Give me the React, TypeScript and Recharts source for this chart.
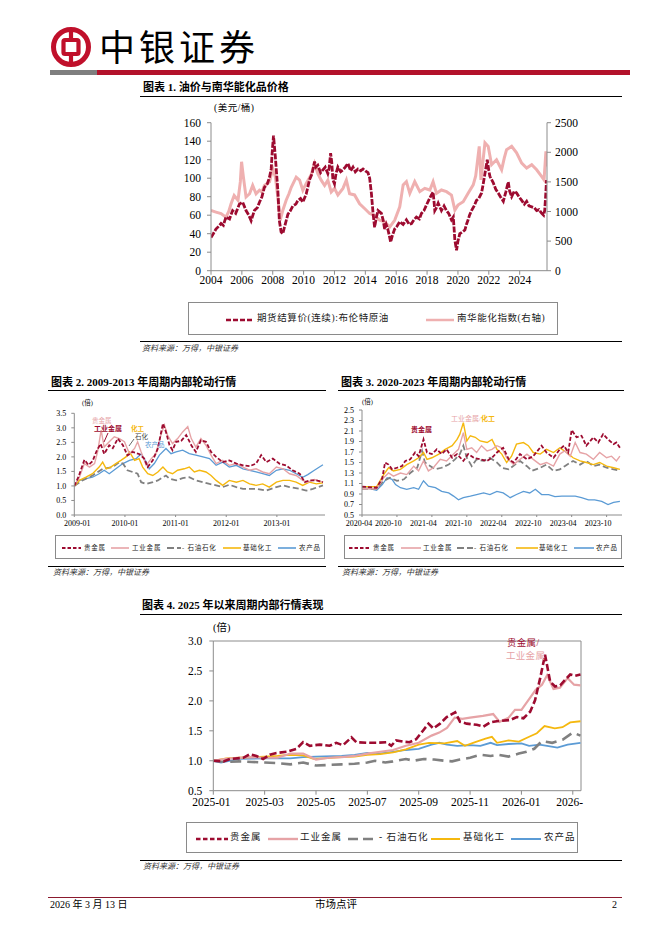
import React from "react";
import { LineChart, Line, XAxis, YAxis, ReferenceLine } from "recharts";

const SERIF = "'Liberation Serif', 'Noto Sans CJK SC', serif";
const CJK = "'Noto Sans CJK SC', sans-serif";

const RED = "#9D0B30";
const PINK = "#E6A3A6";
const PINK1 = "#EFB0B0";
const GRAY = "#808080";
const GOLD = "#F5B80F";
const BLUE = "#5B9BD5";
const AXIS = "#8c8c8c";

// ---------------- Figure 1: Brent vs Nanhua energy-chem index ----------------
const oilXTicks = [2004, 2006, 2008, 2010, 2012, 2014, 2016, 2018, 2020, 2022, 2024];
const oilLeftTicks = [0, 20, 40, 60, 80, 100, 120, 140, 160];
const oilRightTicks = [0, 500, 1000, 1500, 2000, 2500];

// [year, USD/bbl]
const brentSeries: number[][] = [
  [2004.0, 36], [2004.15, 40], [2004.32, 45], [2004.5, 48], [2004.65, 51], [2004.8, 49], [2004.97, 58],
  [2005.2, 56], [2005.4, 65], [2005.6, 62], [2005.84, 72], [2006.05, 74], [2006.27, 65], [2006.45, 60],
  [2006.6, 54], [2006.81, 65], [2007.0, 68], [2007.14, 74], [2007.3, 80], [2007.46, 90], [2007.65, 94],
  [2007.79, 101], [2007.9, 110], [2007.96, 127], [2008.05, 146], [2008.17, 123], [2008.33, 87],
  [2008.43, 54], [2008.54, 42], [2008.65, 40], [2008.76, 47], [2008.98, 61], [2009.15, 65], [2009.3, 70],
  [2009.5, 72], [2009.63, 76], [2009.8, 78], [2009.95, 74], [2010.17, 83], [2010.38, 98], [2010.55, 105],
  [2010.71, 118], [2010.8, 112], [2010.92, 114], [2011.1, 106], [2011.25, 109], [2011.4, 112],
  [2011.57, 105], [2011.65, 110], [2011.75, 127], [2011.82, 118], [2011.9, 98], [2012.0, 94],
  [2012.1, 105], [2012.22, 112], [2012.4, 107], [2012.55, 109], [2012.7, 112], [2012.87, 116],
  [2013.05, 108], [2013.2, 112], [2013.35, 107], [2013.52, 110], [2013.7, 108], [2013.85, 110],
  [2014.0, 108], [2014.17, 106], [2014.28, 100], [2014.39, 84], [2014.5, 62], [2014.6, 47], [2014.72, 58],
  [2014.82, 65], [2015.04, 62], [2015.15, 55], [2015.25, 45], [2015.35, 50], [2015.47, 44], [2015.55, 38],
  [2015.64, 31], [2015.75, 38], [2015.9, 45], [2016.05, 48], [2016.23, 53], [2016.45, 50], [2016.66, 55],
  [2016.85, 50], [2016.99, 51], [2017.15, 55], [2017.31, 58], [2017.5, 56], [2017.64, 62], [2017.8, 65],
  [2017.96, 71], [2018.1, 76], [2018.28, 82], [2018.39, 85], [2018.45, 75], [2018.5, 65], [2018.6, 68],
  [2018.72, 73], [2018.85, 68], [2018.93, 65], [2019.1, 70], [2019.26, 65], [2019.4, 62], [2019.58, 55],
  [2019.7, 58], [2019.8, 33], [2019.91, 22], [2020.0, 32], [2020.12, 40], [2020.3, 42], [2020.45, 44],
  [2020.55, 50], [2020.66, 55], [2020.75, 60], [2020.88, 65], [2021.05, 70], [2021.2, 76], [2021.35, 78],
  [2021.53, 84], [2021.65, 95], [2021.75, 105], [2021.82, 112], [2021.9, 120], [2022.0, 108],
  [2022.07, 102], [2022.2, 98], [2022.29, 95], [2022.45, 88], [2022.61, 84], [2022.75, 80], [2022.94, 75],
  [2023.1, 85], [2023.26, 96], [2023.35, 86], [2023.48, 80], [2023.65, 86], [2023.8, 84], [2023.95, 80],
  [2024.13, 76], [2024.3, 72], [2024.45, 75], [2024.6, 70], [2024.78, 69], [2024.95, 68], [2025.1, 65],
  [2025.25, 66], [2025.43, 62], [2025.55, 60], [2025.62, 65], [2025.68, 80], [2025.74, 98],
];

// [year, index points] (right axis)
const nanhuaSeries: number[][] = [
  [2004.0, 1016], [2004.32, 990], [2004.65, 965], [2004.97, 905], [2005.15, 1000], [2005.3, 1130],
  [2005.5, 1270], [2005.75, 1190], [2005.9, 1500], [2005.98, 1840], [2006.1, 1580], [2006.27, 1245],
  [2006.5, 1300], [2006.7, 1440], [2006.92, 1300], [2007.14, 1360], [2007.3, 1330], [2007.46, 1440],
  [2007.79, 1500], [2008.0, 1725], [2008.17, 1580], [2008.33, 1245], [2008.48, 850], [2008.65, 1016],
  [2008.87, 1190], [2009.05, 1300], [2009.2, 1410], [2009.52, 1580], [2009.74, 1530], [2009.95, 1360],
  [2010.17, 1475], [2010.49, 1620], [2010.71, 1810], [2010.92, 1640], [2011.14, 1530], [2011.36, 1440],
  [2011.57, 1530], [2011.79, 1330], [2012.0, 1390], [2012.22, 1280], [2012.55, 1390], [2012.77, 1530],
  [2012.98, 1300], [2013.3, 1280], [2013.63, 1130], [2013.95, 1050], [2014.28, 966], [2014.6, 937],
  [2014.93, 852], [2015.25, 824], [2015.58, 738], [2015.9, 852], [2016.23, 1080], [2016.45, 1450],
  [2016.66, 1505], [2016.88, 1307], [2017.2, 1505], [2017.53, 1335], [2017.85, 1392], [2018.18, 1363],
  [2018.39, 1505], [2018.61, 1307], [2018.93, 1363], [2019.26, 1335], [2019.58, 1278], [2019.8, 1023],
  [2020.0, 1108], [2020.34, 1165], [2020.66, 1307], [2020.99, 1450], [2021.15, 1600], [2021.25, 1818],
  [2021.38, 2100], [2021.49, 1534], [2021.6, 1800], [2021.75, 2160], [2021.96, 2100], [2022.18, 1790],
  [2022.5, 1875], [2022.83, 1705], [2023.0, 1900], [2023.15, 2045], [2023.48, 2100], [2023.8, 1990],
  [2024.13, 1818], [2024.45, 1733], [2024.78, 1790], [2025.1, 1705], [2025.43, 1590], [2025.58, 1534],
  [2025.7, 2018], [2025.76, 1760],
];

// ---------------- Figure 2: 2009-2013 ----------------
const f2XTicks = [2009, 2010, 2011, 2012, 2013];
const f2XLabels = ["2009-01", "2010-01", "2011-01", "2012-01", "2013-01"];
const f2YTicks = [0, 0.5, 1, 1.5, 2, 2.5, 3, 3.5];

const f2Precious: number[][] = [
  [2009, 1.0], [2009.08, 1.3], [2009.14, 1.6], [2009.2, 1.9], [2009.28, 1.72], [2009.36, 1.85],
  [2009.44, 2.2], [2009.52, 2.45], [2009.59, 2.1], [2009.69, 2.4], [2009.76, 2.3], [2009.86, 2.63],
  [2009.96, 2.4], [2010.05, 2.05], [2010.15, 2.17], [2010.28, 2.1], [2010.38, 1.94], [2010.45, 1.65],
  [2010.55, 1.88], [2010.65, 2.29], [2010.75, 3.15], [2010.81, 2.86], [2010.88, 2.4], [2010.94, 2.23],
  [2011.01, 2.52], [2011.11, 2.55], [2011.21, 2.75], [2011.31, 2.4], [2011.4, 2.17], [2011.5, 2.57],
  [2011.6, 2.52], [2011.7, 2.17], [2011.8, 2.0], [2011.93, 1.82], [2012.06, 1.88], [2012.2, 1.77],
  [2012.33, 1.71], [2012.46, 1.68], [2012.59, 1.77], [2012.69, 2.06], [2012.79, 1.82], [2012.92, 1.94],
  [2013.05, 1.77], [2013.18, 1.71], [2013.31, 1.54], [2013.45, 1.42], [2013.55, 1.13], [2013.64, 1.19],
  [2013.78, 1.19], [2013.91, 1.13],
];
const f2Industrial: number[][] = [
  [2009, 1.0], [2009.1, 1.3], [2009.2, 1.77], [2009.3, 1.65], [2009.4, 1.77], [2009.46, 2.17],
  [2009.53, 2.92], [2009.59, 2.34], [2009.69, 2.52], [2009.79, 2.69], [2009.89, 2.63], [2009.99, 2.52],
  [2010.09, 2.11], [2010.19, 2.29], [2010.25, 2.52], [2010.32, 2.17], [2010.42, 1.71], [2010.52, 1.94],
  [2010.61, 2.11], [2010.71, 2.75], [2010.78, 3.1], [2010.84, 2.75], [2010.94, 2.46], [2011.04, 2.63],
  [2011.14, 2.86], [2011.24, 3.04], [2011.31, 2.63], [2011.4, 2.34], [2011.5, 2.63], [2011.6, 2.4],
  [2011.7, 2.06], [2011.8, 1.77], [2011.93, 1.88], [2012.06, 1.71], [2012.2, 1.77], [2012.33, 1.65],
  [2012.46, 1.54], [2012.59, 1.59], [2012.72, 1.48], [2012.85, 1.42], [2012.99, 1.65], [2013.12, 1.59],
  [2013.25, 1.42], [2013.38, 1.36], [2013.51, 1.19], [2013.61, 1.13], [2013.74, 1.22], [2013.91, 1.13],
];
const f2Petro: number[][] = [
  [2009, 1.0], [2009.16, 1.19], [2009.36, 1.36], [2009.56, 1.59], [2009.76, 1.65], [2009.89, 1.82],
  [2009.96, 1.77], [2010.05, 1.54], [2010.15, 1.48], [2010.25, 1.42], [2010.32, 1.13], [2010.42, 1.07],
  [2010.55, 1.13], [2010.65, 1.19], [2010.75, 1.3], [2010.81, 1.36], [2010.88, 1.25], [2011.01, 1.19],
  [2011.14, 1.27], [2011.27, 1.3], [2011.4, 1.19], [2011.54, 1.13], [2011.67, 1.07], [2011.8, 1.02],
  [2011.93, 0.96], [2012.06, 1.04], [2012.2, 0.96], [2012.33, 0.9], [2012.59, 0.9], [2012.79, 0.84],
  [2012.99, 0.96], [2013.12, 1.02], [2013.25, 0.96], [2013.45, 0.9], [2013.58, 0.84], [2013.71, 0.9],
  [2013.91, 1.02],
];
const f2Chemical: number[][] = [
  [2009, 1.0], [2009.1, 1.19], [2009.23, 1.3], [2009.36, 1.42], [2009.49, 1.65], [2009.56, 1.82],
  [2009.63, 1.59], [2009.72, 1.65], [2009.82, 1.77], [2009.92, 1.88], [2010.02, 2.0], [2010.09, 2.17],
  [2010.19, 1.88], [2010.28, 1.94], [2010.35, 1.65], [2010.45, 1.42], [2010.55, 1.36], [2010.65, 1.48],
  [2010.75, 1.65], [2010.84, 1.48], [2010.94, 1.42], [2011.04, 1.54], [2011.17, 1.59], [2011.27, 1.65],
  [2011.37, 1.48], [2011.47, 1.54], [2011.6, 1.48], [2011.7, 1.36], [2011.8, 1.19], [2011.93, 1.02],
  [2012.06, 1.19], [2012.2, 1.13], [2012.33, 1.19], [2012.46, 1.07], [2012.59, 1.02], [2012.72, 1.07],
  [2012.85, 0.96], [2012.99, 1.13], [2013.12, 1.19], [2013.25, 1.19], [2013.38, 1.13], [2013.51, 1.02],
  [2013.64, 1.13], [2013.78, 1.07], [2013.91, 1.11],
];
const f2Agri: number[][] = [
  [2009, 1.0], [2009.1, 1.19], [2009.23, 1.25], [2009.36, 1.3], [2009.49, 1.42], [2009.59, 1.54],
  [2009.69, 1.42], [2009.82, 1.59], [2009.96, 1.77], [2010.09, 1.88], [2010.22, 1.94], [2010.32, 2.11],
  [2010.42, 1.82], [2010.48, 1.59], [2010.58, 1.77], [2010.68, 2.06], [2010.81, 2.29], [2010.91, 2.11],
  [2011.01, 2.17], [2011.14, 2.23], [2011.27, 2.11], [2011.4, 2.06], [2011.54, 2.0], [2011.67, 1.94],
  [2011.8, 1.71], [2011.93, 1.82], [2012.06, 1.65], [2012.2, 1.71], [2012.33, 1.59], [2012.46, 1.54],
  [2012.59, 1.48], [2012.72, 1.42], [2012.85, 1.36], [2012.99, 1.54], [2013.12, 1.59], [2013.25, 1.54],
  [2013.38, 1.42], [2013.51, 1.3], [2013.61, 1.39], [2013.74, 1.54], [2013.84, 1.65], [2013.91, 1.73],
];

// ---------------- Figure 3: 2020-2023 ----------------
const f3XTicks = [2020.25, 2020.75, 2021.25, 2021.75, 2022.25, 2022.75, 2023.25, 2023.75];
const f3XLabels = ["2020-04", "2020-10", "2021-04", "2021-10", "2022-04", "2022-10", "2023-04", "2023-10"];
const f3YTicks = [0.5, 0.7, 0.9, 1.1, 1.3, 1.5, 1.7, 1.9, 2.1, 2.3, 2.5];

const f3Precious: number[][] = [
  [2020.25, 1.04], [2020.46, 1.02], [2020.54, 1.2], [2020.58, 1.5], [2020.63, 1.46], [2020.68, 1.37],
  [2020.75, 1.4], [2020.82, 1.43], [2020.87, 1.53], [2020.94, 1.56], [2021.01, 1.69], [2021.06, 1.62],
  [2021.13, 1.94], [2021.18, 1.69], [2021.25, 1.66], [2021.32, 1.75], [2021.39, 1.66], [2021.46, 1.75],
  [2021.54, 1.59], [2021.61, 1.66], [2021.7, 1.53], [2021.77, 1.66], [2021.85, 1.59], [2021.94, 1.56],
  [2022.04, 1.53], [2022.11, 1.59], [2022.18, 1.69], [2022.27, 1.78], [2022.35, 1.56], [2022.42, 1.5],
  [2022.51, 1.66], [2022.61, 1.56], [2022.7, 1.62], [2022.82, 1.82], [2022.89, 1.69], [2022.99, 1.59],
  [2023.08, 1.75], [2023.14, 1.82], [2023.2, 1.69], [2023.25, 2.12], [2023.32, 1.98], [2023.39, 2.01],
  [2023.46, 1.82], [2023.56, 1.98], [2023.63, 1.88], [2023.7, 2.04], [2023.77, 1.94], [2023.85, 1.85],
  [2023.89, 1.88], [2023.94, 1.78],
];
const f3Industrial: number[][] = [
  [2020.25, 1.0], [2020.46, 1.0], [2020.56, 1.21], [2020.63, 1.3], [2020.7, 1.24], [2020.8, 1.3],
  [2020.89, 1.27], [2020.99, 1.43], [2021.06, 1.34], [2021.13, 1.53], [2021.2, 1.34], [2021.27, 1.4],
  [2021.37, 1.56], [2021.46, 1.53], [2021.56, 1.66], [2021.63, 1.75], [2021.7, 2.07], [2021.75, 1.75],
  [2021.82, 1.78], [2021.89, 1.69], [2021.96, 1.82], [2022.04, 1.72], [2022.11, 1.75], [2022.18, 1.82],
  [2022.25, 1.78], [2022.32, 1.59], [2022.42, 1.46], [2022.51, 1.56], [2022.61, 1.66], [2022.7, 1.56],
  [2022.8, 1.46], [2022.89, 1.5], [2022.99, 1.43], [2023.08, 1.66], [2023.15, 1.72], [2023.23, 1.62],
  [2023.3, 1.88], [2023.37, 1.69], [2023.46, 1.66], [2023.56, 1.56], [2023.65, 1.69], [2023.75, 1.59],
  [2023.82, 1.62], [2023.89, 1.53], [2023.94, 1.62],
];
const f3Petro: number[][] = [
  [2020.25, 1.0], [2020.46, 1.0], [2020.56, 1.15], [2020.65, 1.21], [2020.75, 1.15], [2020.85, 1.18],
  [2020.94, 1.3], [2021.04, 1.4], [2021.11, 1.72], [2021.15, 1.5], [2021.23, 1.43], [2021.3, 1.37],
  [2021.39, 1.4], [2021.49, 1.46], [2021.58, 1.56], [2021.65, 1.66], [2021.7, 1.82], [2021.75, 1.59],
  [2021.82, 1.43], [2021.89, 1.56], [2021.99, 1.53], [2022.08, 1.59], [2022.18, 1.5], [2022.25, 1.4],
  [2022.35, 1.37], [2022.44, 1.46], [2022.51, 1.53], [2022.61, 1.43], [2022.68, 1.34], [2022.8, 1.4],
  [2022.89, 1.46], [2022.99, 1.34], [2023.08, 1.37], [2023.15, 1.43], [2023.27, 1.53], [2023.37, 1.46],
  [2023.46, 1.53], [2023.56, 1.43], [2023.65, 1.46], [2023.75, 1.4], [2023.85, 1.37], [2023.94, 1.34],
];
const f3Chemical: number[][] = [
  [2020.25, 1.04], [2020.46, 1.04], [2020.56, 1.27], [2020.63, 1.4], [2020.7, 1.34], [2020.8, 1.37],
  [2020.89, 1.46], [2020.99, 1.53], [2021.06, 1.59], [2021.13, 1.69], [2021.18, 1.56], [2021.25, 1.59],
  [2021.35, 1.66], [2021.44, 1.75], [2021.54, 1.82], [2021.61, 1.94], [2021.65, 2.04], [2021.7, 2.26],
  [2021.75, 1.91], [2021.8, 2.01], [2021.87, 1.98], [2021.94, 1.91], [2022.04, 1.88], [2022.11, 1.94],
  [2022.18, 1.75], [2022.25, 1.66], [2022.32, 1.5], [2022.39, 1.62], [2022.46, 1.85], [2022.56, 1.88],
  [2022.63, 1.82], [2022.7, 1.69], [2022.8, 1.66], [2022.89, 1.75], [2022.99, 1.69], [2023.08, 1.78],
  [2023.18, 1.69], [2023.27, 1.59], [2023.37, 1.53], [2023.46, 1.5], [2023.56, 1.46], [2023.65, 1.5],
  [2023.75, 1.43], [2023.85, 1.4], [2023.94, 1.37],
];
const f3Agri: number[][] = [
  [2020.25, 1.02], [2020.37, 1.0], [2020.46, 0.97], [2020.54, 1.08], [2020.61, 1.21], [2020.68, 1.18],
  [2020.73, 1.08], [2020.8, 1.02], [2020.89, 0.99], [2020.99, 1.02], [2021.06, 0.99], [2021.11, 1.11],
  [2021.13, 1.15], [2021.2, 1.05], [2021.3, 1.02], [2021.39, 0.95], [2021.49, 0.92], [2021.56, 0.86],
  [2021.63, 0.79], [2021.7, 0.83], [2021.8, 0.86], [2021.89, 0.89], [2021.99, 0.92], [2022.08, 0.89],
  [2022.18, 0.95], [2022.27, 0.92], [2022.37, 0.83], [2022.46, 0.89], [2022.56, 0.95], [2022.65, 0.92],
  [2022.73, 0.99], [2022.82, 0.89], [2022.92, 0.89], [2023.01, 0.85], [2023.11, 0.86], [2023.2, 0.86],
  [2023.3, 0.86], [2023.39, 0.83], [2023.49, 0.79], [2023.58, 0.79], [2023.68, 0.76], [2023.77, 0.7],
  [2023.85, 0.74], [2023.94, 0.76],
];

// ---------------- Figure 4: since 2025 (x = months since 2025-01) ----------------
const f4XTicks = [0, 2, 4, 6, 8, 10, 12, 14];
const f4XLabels = ["2025-01", "2025-03", "2025-05", "2025-07", "2025-09", "2025-11", "2026-01", "2026-"];
const f4YTicks = [0.5, 1.0, 1.5, 2.0, 2.5, 3.0];

const f4Precious: number[][] = [
  [0, 1.0], [0.4, 0.99], [0.65, 1.03], [1.17, 1.05], [1.42, 1.11], [1.68, 1.08], [1.94, 1.03], [2.2, 1.1],
  [2.46, 1.13], [2.85, 1.15], [3.24, 1.2], [3.5, 1.31], [3.76, 1.25], [4.15, 1.27], [4.53, 1.25],
  [4.79, 1.3], [5.05, 1.26], [5.38, 1.39], [5.57, 1.31], [5.96, 1.3], [6.35, 1.3], [6.74, 1.31],
  [6.93, 1.25], [7.12, 1.34], [7.38, 1.32], [7.64, 1.31], [7.9, 1.36], [8.18, 1.51], [8.38, 1.62],
  [8.57, 1.54], [8.83, 1.62], [9.09, 1.73], [9.42, 1.81], [9.61, 1.65], [9.87, 1.62], [10.26, 1.6],
  [10.52, 1.57], [10.78, 1.64], [11.04, 1.66], [11.56, 1.68], [11.82, 1.73], [12.08, 1.71], [12.34, 1.82],
  [12.53, 2.01], [12.73, 2.38], [12.92, 2.77], [13.12, 2.32], [13.31, 2.24], [13.51, 2.26], [13.7, 2.35],
  [13.9, 2.44], [14.09, 2.42], [14.3, 2.44],
];
const f4Industrial: number[][] = [
  [0, 1.0], [0.5, 1.03], [1.0, 1.05], [1.5, 1.06], [2.0, 1.05], [2.5, 1.05], [3.0, 1.12], [3.5, 1.12],
  [4.0, 1.02], [4.5, 1.05], [5.0, 1.06], [5.5, 1.08], [6.0, 1.12], [6.5, 1.15], [7.0, 1.18], [7.5, 1.25],
  [8.0, 1.3], [8.5, 1.42], [8.8, 1.47], [9.1, 1.55], [9.4, 1.72], [9.7, 1.7], [10.0, 1.72], [10.5, 1.75],
  [10.9, 1.78], [11.15, 1.65], [11.5, 1.72], [11.75, 1.85], [12.0, 1.85], [12.25, 2.0], [12.55, 2.18],
  [12.8, 2.27], [13.0, 2.43], [13.25, 2.2], [13.5, 2.22], [13.8, 2.38], [14.05, 2.27], [14.3, 2.26],
];
const f4Petro: number[][] = [
  [0, 1.0], [0.5, 0.98], [1.0, 0.99], [1.5, 0.98], [2.0, 0.97], [2.5, 0.96], [3.0, 0.94], [3.5, 0.97],
  [4.0, 0.92], [4.5, 0.93], [5.0, 0.94], [5.5, 0.95], [6.0, 0.97], [6.3, 1.0], [6.7, 0.97], [7.0, 0.99],
  [7.5, 1.03], [7.8, 1.0], [8.2, 1.03], [8.6, 1.02], [9.0, 1.0], [9.3, 0.99], [9.6, 1.02], [10.0, 1.05],
  [10.4, 1.1], [10.8, 1.08], [11.1, 1.1], [11.5, 1.07], [11.9, 1.12], [12.2, 1.15], [12.5, 1.2],
  [12.8, 1.33], [13.2, 1.3], [13.6, 1.35], [14.0, 1.47], [14.3, 1.42],
];
const f4Chemical: number[][] = [
  [0, 1.0], [0.5, 1.04], [1.0, 1.05], [2.0, 1.07], [2.5, 1.08], [3.0, 1.1], [3.5, 1.09], [3.9, 1.03],
  [4.3, 1.04], [5.0, 1.06], [5.5, 1.07], [6.0, 1.1], [6.5, 1.11], [7.0, 1.14], [7.5, 1.19], [8.0, 1.27],
  [8.4, 1.3], [9.0, 1.29], [9.5, 1.33], [9.8, 1.25], [10.2, 1.31], [10.6, 1.37], [10.85, 1.4], [11.05, 1.3],
  [11.5, 1.34], [11.9, 1.32], [12.3, 1.4], [12.6, 1.46], [12.9, 1.58], [13.3, 1.54], [13.6, 1.56],
  [13.9, 1.64], [14.3, 1.66],
];
const f4Agri: number[][] = [
  [0, 1.0], [0.3, 0.97], [1.0, 1.03], [2.0, 1.04], [3.0, 1.04], [3.5, 1.06], [4.0, 1.07], [5.0, 1.08],
  [5.5, 1.1], [6.0, 1.13], [6.3, 1.11], [7.0, 1.15], [7.5, 1.18], [8.0, 1.2], [8.5, 1.27], [8.8, 1.3],
  [9.1, 1.27], [9.5, 1.25], [10.0, 1.26], [10.4, 1.25], [10.8, 1.3], [11.05, 1.26], [11.5, 1.28],
  [12.0, 1.29], [12.3, 1.25], [12.7, 1.27], [13.0, 1.25], [13.4, 1.22], [13.8, 1.27], [14.3, 1.3],
];

const seriesNames = ["贵金属", "工业金属", "石油石化", "基础化工", "农产品"];

// ---------------- helpers ----------------
const toPoints = (pairs: number[][]) => pairs.map(([x, v]) => ({ x, v }));

function makeXTick(values: number[], labels: string[], fontSize: number, shifts: number[] = []) {
  return (props: any) => {
    const { x, y, payload } = props;
    const i = values.findIndex((t) => Math.abs(t - payload.value) < 1e-6);
    if (i < 0) return <g />;
    return (
      <text x={x + (shifts[i] || 0)} y={y} dy={fontSize * 0.78} textAnchor="middle" fontSize={fontSize} fontFamily={SERIF} fill="#000">
        {labels[i]}
      </text>
    );
  };
}

function T(props: {
  x: number; y: number; size: number; children: React.ReactNode; color?: string; bold?: boolean;
  italic?: boolean; spacing?: number; center?: boolean; family?: string;
}) {
  const { x, y, size, children, color = "#000", bold, italic, spacing = 0, center, family = SERIF } = props;
  return (
    <div
      style={{
        position: "absolute", left: x, top: y - size * 0.6, fontSize: size, lineHeight: `${size * 1.2}px`,
        color, fontWeight: bold ? 700 : 400, fontStyle: italic ? "italic" : "normal", letterSpacing: spacing,
        whiteSpace: "nowrap", fontFamily: family, transform: center ? "translateX(-50%)" : undefined, zIndex: 5,
      }}
    >
      {children}
    </div>
  );
}

function HLine({ x1, x2, y, color = "#000", w = 1 }: { x1: number; x2: number; y: number; color?: string; w?: number }) {
  return <div style={{ position: "absolute", left: x1, top: y, width: x2 - x1, height: w, background: color }} />;
}

type LegItem = { label: string; color: string; dash?: string; sw: number; sx: number; swidth: number; tx: number };

function LegendBox({ left, top, width, height, items, fontSize, spacing }: {
  left: number; top: number; width: number; height: number; items: LegItem[]; fontSize: number; spacing: number;
}) {
  const cy = height / 2;
  return (
    <div style={{ position: "absolute", left, top, width, height, border: "1px solid #8a8a8a", boxSizing: "border-box" }}>
      {items.map((it) => (
        <React.Fragment key={it.label}>
          <svg style={{ position: "absolute", left: it.sx - left, top: cy - 5 }} width={it.swidth} height={10}>
            <line x1={0} y1={5} x2={it.swidth} y2={5} stroke={it.color} strokeWidth={it.sw} strokeDasharray={it.dash} />
          </svg>
          <div
            style={{
              position: "absolute", left: it.tx - left, top: cy - fontSize * 0.65, fontSize, lineHeight: `${fontSize * 1.2}px`,
              whiteSpace: "nowrap", fontFamily: SERIF, letterSpacing: spacing, color: "#222",
            }}
          >
            {it.label}
          </div>
        </React.Fragment>
      ))}
    </div>
  );
}

const tickStyle = (size: number) => ({ fontSize: size, fill: "#000", fontFamily: SERIF });

// ---------------- charts ----------------
function Fig1() {
  return (
    <div style={{ position: "absolute", left: 150, top: 100 }}>
      <LineChart width={430} height={195} margin={{ top: 22.7, right: 0, bottom: 4.3, left: 0 }}>
        <XAxis
          dataKey="x" type="number" domain={[2004, 2025.77]} ticks={oilXTicks} allowDataOverflow interval={0}
          height={20} tickSize={4} tickMargin={1} stroke={AXIS} tick={tickStyle(11.5)}
          tickFormatter={(v: number) => String(v)}
        />
        <YAxis
          yAxisId="l" type="number" domain={[0, 160]} ticks={oilLeftTicks} width={61} tickSize={4} interval={0}
          tickMargin={6} stroke={AXIS} tick={tickStyle(11.5)} allowDataOverflow
        />
        <YAxis
          yAxisId="r" orientation="right" type="number" domain={[0, 2500]} ticks={oilRightTicks} width={33} interval={0}
          tickSize={4} tickMargin={4} stroke={AXIS} tick={tickStyle(11.5)} allowDataOverflow
        />
        <Line yAxisId="r" data={toPoints(nanhuaSeries)} dataKey="v" type="linear" stroke={PINK1} strokeWidth={3} dot={false} isAnimationActive={false} />
        <Line yAxisId="l" data={toPoints(brentSeries)} dataKey="v" type="linear" stroke={RED} strokeWidth={2.8} strokeDasharray="6 1.5" dot={false} isAnimationActive={false} />
      </LineChart>
    </div>
  );
}

function SmallChart(props: {
  left: number; top: number; width: number; height: number; yWidth: number; mr: number; mt: number;
  xDomain: number[]; xTicks: number[]; xLabels: string[]; xShifts?: number[]; yDomain: number[]; yTicks: number[];
  precious: number[][]; industrial: number[][]; petro: number[][]; chemical: number[][]; agri: number[][];
}) {
  const p = props;
  return (
    <div style={{ position: "absolute", left: p.left, top: p.top }}>
      <LineChart width={p.width} height={p.height} margin={{ top: p.mt, right: p.mr, bottom: 2, left: 0 }}>
        <XAxis
          dataKey="x" type="number" domain={p.xDomain} ticks={p.xTicks} allowDataOverflow height={13} interval={0}
          tickSize={2} tickMargin={2.5} stroke={AXIS} tick={makeXTick(p.xTicks, p.xLabels, 8, p.xShifts)}
        />
        <YAxis
          type="number" domain={p.yDomain} ticks={p.yTicks} width={p.yWidth} tickSize={3} tickMargin={5} interval={0}
          stroke={AXIS} tick={tickStyle(8)} tickFormatter={(v: number) => v.toFixed(1)} allowDataOverflow
        />
        <Line data={toPoints(p.agri)} dataKey="v" stroke={BLUE} strokeWidth={1.3} dot={false} isAnimationActive={false} />
        <Line data={toPoints(p.petro)} dataKey="v" stroke={GRAY} strokeWidth={1.8} strokeDasharray="6 3" dot={false} isAnimationActive={false} />
        <Line data={toPoints(p.chemical)} dataKey="v" stroke={GOLD} strokeWidth={1.4} dot={false} isAnimationActive={false} />
        <Line data={toPoints(p.industrial)} dataKey="v" stroke={PINK} strokeWidth={1.4} dot={false} isAnimationActive={false} />
        <Line data={toPoints(p.precious)} dataKey="v" stroke={RED} strokeWidth={1.8} strokeDasharray="4 2" dot={false} isAnimationActive={false} />
      </LineChart>
    </div>
  );
}

function Fig4() {
  return (
    <div style={{ position: "absolute", left: 150, top: 620 }}>
      <LineChart width={440} height={195} margin={{ top: 21, right: 9, bottom: 4.3, left: 0 }}>
        <XAxis
          dataKey="x" type="number" domain={[0, 14.32]} ticks={f4XTicks} allowDataOverflow height={20} interval={0}
          tickSize={4} tickMargin={2} stroke={AXIS} tick={makeXTick(f4XTicks, f4XLabels, 11.5, [-2, 0, 0, 0, 0, 0, 0, -3])}
        />
        <YAxis
          type="number" domain={[0.5, 3.0]} ticks={f4YTicks} width={63.3} tickSize={4} tickMargin={7} interval={0}
          stroke={AXIS} tick={tickStyle(11.5)} tickFormatter={(v: number) => v.toFixed(1)} allowDataOverflow
        />
        <ReferenceLine y={3.0} stroke={AXIS} strokeWidth={1} />
        <ReferenceLine x={14.32} stroke={AXIS} strokeWidth={1} />
        <Line data={toPoints(f4Agri)} dataKey="v" stroke={BLUE} strokeWidth={1.8} dot={false} isAnimationActive={false} />
        <Line data={toPoints(f4Chemical)} dataKey="v" stroke={GOLD} strokeWidth={1.8} dot={false} isAnimationActive={false} />
        <Line data={toPoints(f4Petro)} dataKey="v" stroke={GRAY} strokeWidth={2.6} strokeDasharray="11 6" dot={false} isAnimationActive={false} />
        <Line data={toPoints(f4Industrial)} dataKey="v" stroke={PINK} strokeWidth={2.2} dot={false} isAnimationActive={false} />
        <Line data={toPoints(f4Precious)} dataKey="v" stroke={RED} strokeWidth={2.6} strokeDasharray="7 3" dot={false} isAnimationActive={false} />
      </LineChart>
    </div>
  );
}

function Logo() {
  const c = "#C0102B";
  return (
    <svg style={{ position: "absolute", left: 49, top: 25 }} width={44} height={44}>
      <circle cx={22} cy={22} r={17.5} stroke={c} strokeWidth={5} fill="none" />
      <rect x={14.5} y={15} width={15} height={14} rx={1.5} stroke={c} strokeWidth={4.2} fill="none" />
      <line x1={22} y1={4} x2={22} y2={15} stroke={c} strokeWidth={4.2} />
      <line x1={22} y1={29} x2={22} y2={40} stroke={c} strokeWidth={4.2} />
    </svg>
  );
}

const smallLegend = (xs: number[][]): LegItem[] => [
  { label: seriesNames[0], color: RED, dash: "3.5 2", sw: 2, sx: xs[0][0], swidth: xs[0][1], tx: xs[0][2] },
  { label: seriesNames[1], color: PINK, sw: 1.6, sx: xs[1][0], swidth: xs[1][1], tx: xs[1][2] },
  { label: "- " + seriesNames[2], color: GRAY, dash: "7 3", sw: 2, sx: xs[2][0], swidth: xs[2][1], tx: xs[2][2] },
  { label: seriesNames[3], color: GOLD, sw: 1.6, sx: xs[3][0], swidth: xs[3][1], tx: xs[3][2] },
  { label: seriesNames[4], color: BLUE, sw: 1.6, sx: xs[4][0], swidth: xs[4][1], tx: xs[4][2] },
];

export default function App() {
  const source = "资料来源：万得，中银证券";
  return (
    <div style={{ position: "absolute", left: 0, top: 0, width: 662, height: 936, background: "#fff", overflow: "hidden", fontFamily: SERIF }}>
      {/* header */}
      <Logo />
      <T x={99} y={46} size={36} family={CJK} spacing={4}>中银证券</T>
      <div style={{ position: "absolute", left: 50, top: 70, width: 47, height: 5, background: "#7f7f7f" }} />
      <div style={{ position: "absolute", left: 97, top: 70, width: 533, height: 5, background: "#B3122B" }} />

      {/* Figure 1 */}
      <T x={143} y={88} size={11} bold>图表 1. 油价与南华能化品价格</T>
      <HLine x1={140} x2={622} y={96} />
      <T x={214} y={109} size={9.5} spacing={0.5}>(美元/桶)</T>
      <Fig1 />
      <LegendBox
        left={188} top={302} width={370} height={33} fontSize={9.5} spacing={0.6}
        items={[
          { label: "期货结算价(连续):布伦特原油", color: RED, dash: "5 2", sw: 2.5, sx: 225, swidth: 28, tx: 256 },
          { label: "南华能化指数(右轴)", color: PINK1, sw: 2.5, sx: 425, swidth: 28, tx: 456 },
        ]}
      />
      <HLine x1={140} x2={622} y={341} />
      <T x={142} y={349} size={8} italic color="#333">{source}</T>

      {/* Figure 2 */}
      <T x={51} y={383} size={11} bold>图表 2. 2009-2013 年周期内部轮动行情</T>
      <HLine x1={48} x2={326} y={390} />
      <T x={82} y={403} size={6.5}>(倍)</T>
      <SmallChart
        left={40} top={395} width={290} height={135} yWidth={34.3} mr={5} mt={18.3}
        xDomain={[2009, 2013.95]} xTicks={f2XTicks} xLabels={f2XLabels} xShifts={[3, 0, 0, 0, 0]}
        yDomain={[0, 3.5]} yTicks={f2YTicks}
        precious={f2Precious} industrial={f2Industrial} petro={f2Petro} chemical={f2Chemical} agri={f2Agri}
      />
      <T x={92} y={421} size={6.5} color={PINK}>贵金属</T>
      <T x={94} y={429} size={7} bold color={RED}>工业金属</T>
      <T x={131} y={429} size={6.5} bold color={GOLD}>化工</T>
      <T x={135} y={437} size={6.5} color="#444">石化</T>
      <T x={145} y={445} size={6.5} color={BLUE}>农产品</T>
      <svg style={{ position: "absolute", left: 0, top: 0, zIndex: 4 }} width={662} height={936} pointerEvents="none">
        <line x1={108} y1={433} x2={104} y2={442} stroke={RED} strokeWidth={1} />
        <line x1={134} y1={439} x2={129} y2={446} stroke="#444" strokeWidth={0.8} />
      </svg>
      <LegendBox
        left={55} top={535} width={270} height={24} fontSize={6.5} spacing={0.8}
        items={smallLegend([[61, 19, 83], [110, 18, 131], [166, 14, 181], [222, 18, 242], [277, 18, 298]])}
      />
      <HLine x1={48} x2={326} y={566} />
      <T x={53} y={573} size={8} italic color="#333">{source}</T>

      {/* Figure 3 */}
      <T x={341} y={383} size={11} bold>图表 3. 2020-2023 年周期内部轮动行情</T>
      <HLine x1={338} x2={624} y={390} />
      <T x={362} y={402} size={6.5}>(倍)</T>
      <SmallChart
        left={330} top={395} width={300} height={135} yWidth={32} mr={8} mt={15}
        xDomain={[2020.25, 2023.97]} xTicks={f3XTicks} xLabels={f3XLabels}
        xShifts={[-3, -8.5, -8.5, -8.5, -8.5, -8.5, -8.5, -8.5]} yDomain={[0.5, 2.5]} yTicks={f3YTicks}
        precious={f3Precious} industrial={f3Industrial} petro={f3Petro} chemical={f3Chemical} agri={f3Agri}
      />
      <T x={411} y={430} size={7} bold color={RED}>贵金属</T>
      <T x={451} y={419} size={7} color={PINK}>工业金属/<span style={{ color: GOLD, fontWeight: 700 }}>化工</span></T>
      <LegendBox
        left={344} top={535} width={278} height={24} fontSize={6.5} spacing={0.8}
        items={smallLegend([[348, 22, 372], [400, 20, 422], [456, 16, 473], [515, 22, 538], [573, 20, 595]])}
      />
      <HLine x1={338} x2={624} y={566} />
      <T x={342} y={573} size={8} italic color="#333">{source}</T>

      {/* Figure 4 */}
      <T x={142} y={606} size={11} bold>图表 4. 2025 年以来周期内部行情表现</T>
      <HLine x1={140} x2={622} y={614} />
      <T x={213} y={628} size={10.5}>(倍)</T>
      <Fig4 />
      <T x={507} y={644} size={9.5} color={RED} spacing={0.3}>贵金属/</T>
      <T x={506} y={657} size={9.5} color={PINK} spacing={0.3}>工业金属</T>
      <LegendBox
        left={186} top={822} width={392} height={31} fontSize={9.5} spacing={1}
        items={[
          { label: seriesNames[0], color: RED, dash: "4.5 2.5", sw: 2.6, sx: 195, swidth: 32, tx: 229 },
          { label: seriesNames[1], color: PINK, sw: 2.4, sx: 267, swidth: 30, tx: 299 },
          { label: "- " + seriesNames[2], color: GRAY, dash: "10 5", sw: 2.6, sx: 347, swidth: 28, tx: 378 },
          { label: seriesNames[3], color: GOLD, sw: 2, sx: 430, swidth: 29, tx: 462 },
          { label: seriesNames[4], color: BLUE, sw: 2, sx: 510, swidth: 30, tx: 543 },
        ]}
      />
      <HLine x1={140} x2={622} y={860} />
      <T x={143} y={867} size={8} italic color="#333">{source}</T>

      {/* footer */}
      <HLine x1={48} x2={622} y={897} color="#8B1A2E" />
      <T x={50} y={905} size={10}>2026 年 3 月 13 日</T>
      <T x={336} y={905} size={10.5} center>市场点评</T>
      <T x={612} y={905} size={10}>2</T>
    </div>
  );
}
